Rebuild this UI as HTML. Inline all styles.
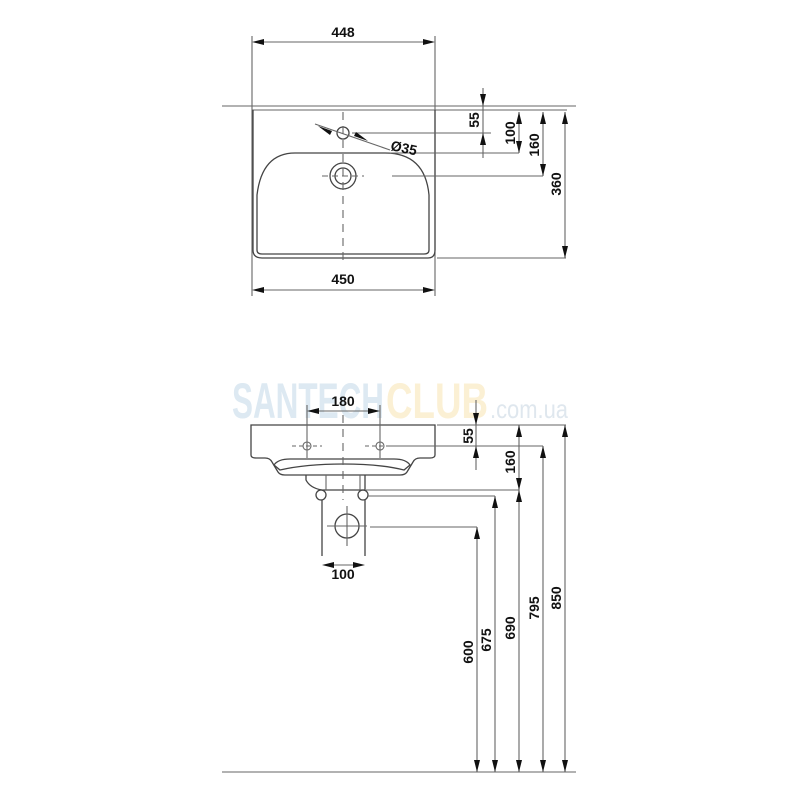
<!DOCTYPE html>
<html><head><style>body{margin:0;background:#fff}svg{display:block}</style></head><body>
<svg width="800" height="800" viewBox="0 0 800 800" xmlns="http://www.w3.org/2000/svg" font-family="Liberation Sans, sans-serif">
<rect width="800" height="800" fill="#fff"/>
<text x="232" y="418" font-size="50" font-weight="bold" fill="#dde9f2" textLength="152" lengthAdjust="spacingAndGlyphs">SANTECH</text>
<text x="386" y="418" font-size="50" font-weight="bold" fill="#fbf0d4" textLength="102" lengthAdjust="spacingAndGlyphs">CLUB</text>
<text x="490" y="418" font-size="26" fill="#dfe7ee" textLength="78" lengthAdjust="spacingAndGlyphs">.com.ua</text>
<g stroke="#666" stroke-width="1.1" fill="none">
<line x1="222" y1="106" x2="576" y2="106"/>
<line x1="252" y1="110" x2="567" y2="110"/>
<line x1="252" y1="36" x2="252" y2="296"/>
<line x1="435" y1="36" x2="435" y2="296"/>
<line x1="262" y1="42" x2="425" y2="42"/>
<line x1="262" y1="290" x2="425" y2="290"/>
<g stroke="#444" stroke-width="1.3">
<path d="M253 110 V250 Q253 258 262 258 H428 Q435 258 435 250 V110"/>
<path d="M257 250 V195 Q262 153 295 153 H385 Q425 153 429 195 V250 Q429 254 424 254 H262 Q257 254 257 250"/>
<circle cx="343" cy="133" r="6"/>
<circle cx="343" cy="176" r="13"/>
<circle cx="343" cy="176" r="8"/>
</g>
<line x1="343" y1="112" x2="343" y2="260" stroke-dasharray="8,6"/>
<line x1="322" y1="176" x2="364" y2="176" stroke-dasharray="6,4"/>
<line x1="315" y1="124" x2="390" y2="150"/>
<line x1="352" y1="133" x2="491" y2="133"/>
<line x1="390" y1="153" x2="519" y2="153"/>
<line x1="392" y1="176" x2="543" y2="176"/>
<line x1="437" y1="258" x2="566" y2="258"/>
<line x1="483" y1="88" x2="483" y2="158"/>
<line x1="519" y1="112" x2="519" y2="153"/>
<line x1="543" y1="112" x2="543" y2="176"/>
<line x1="565" y1="112" x2="565" y2="258"/>
<g stroke="#444" stroke-width="1.3">
<path d="M251 425 H435 V455 Q435 458 430 458 H420 Q415 458 413 462 L407 472 Q405 475 400 475 H285 Q280 475 278 472 L272 462 Q270 458 265 458 H256 Q251 458 251 455 Z"/>
<path d="M274 465 Q278 459 290 459 H394 Q406 459 410 465 L404 470 Q380 464 343 464 Q306 464 280 470 Z"/>
<path d="M306 475 V480 Q310 488 322 490 H365 V475"/>
<line x1="322" y1="500" x2="322" y2="556"/>
<line x1="365" y1="500" x2="365" y2="556"/>
<circle cx="321" cy="495" r="5"/>
<circle cx="363" cy="495" r="5"/>
<circle cx="347" cy="526" r="12"/>
</g>
<line x1="326" y1="475" x2="326" y2="490"/>
<line x1="360" y1="475" x2="360" y2="490"/>
<line x1="347" y1="506" x2="347" y2="546"/>
<line x1="327" y1="526" x2="367" y2="526"/>
<line x1="343" y1="415" x2="343" y2="500" stroke-dasharray="8,6"/>
<line x1="307" y1="405" x2="307" y2="458"/>
<line x1="380" y1="405" x2="380" y2="458"/>
<line x1="292" y1="446" x2="322" y2="446" stroke-dasharray="4,3"/>
<line x1="365" y1="446" x2="395" y2="446" stroke-dasharray="4,3"/>
<circle cx="307" cy="446" r="4"/><circle cx="380" cy="446" r="4"/>
<line x1="312" y1="411" x2="375" y2="411"/>
<line x1="328" y1="565" x2="360" y2="565"/>
<line x1="437" y1="425" x2="566" y2="425"/>
<line x1="386" y1="446" x2="543" y2="446"/>
<line x1="366" y1="490" x2="519" y2="490"/>
<line x1="368" y1="496" x2="495" y2="496"/>
<line x1="370" y1="527" x2="477" y2="527"/>
<line x1="476" y1="400" x2="476" y2="470"/>
<line x1="519" y1="425" x2="519" y2="772"/>
<line x1="543" y1="446" x2="543" y2="772"/>
<line x1="565" y1="425" x2="565" y2="772"/>
<line x1="495" y1="496" x2="495" y2="772"/>
<line x1="477" y1="527" x2="477" y2="772"/>
<line x1="222" y1="772" x2="576" y2="772"/>
</g>
<g fill="#111">
<path d="M252 42 l12 -3 v6z"/><path d="M435 42 l-12 -3 v6z"/>
<path d="M252 290 l12 -3 v6z"/><path d="M435 290 l-12 -3 v6z"/>
<path d="M307 411 l12 -3 v6z"/><path d="M380 411 l-12 -3 v6z"/>
<path d="M322 565 l12 -3 v6z"/><path d="M365 565 l-12 -3 v6z"/>
<path d="M318 126 l14 5 -2 4z"/><path d="M368 141 l-14 -5 2 -4z"/>
<path d="M483 106 l-3 -12 h6z"/><path d="M483 133 l-3 12 h6z"/>
<path d="M519 112 l-3 12 h6z"/><path d="M519 153 l-3 -12 h6z"/>
<path d="M543 112 l-3 12 h6z"/><path d="M543 176 l-3 -12 h6z"/>
<path d="M565 112 l-3 12 h6z"/><path d="M565 258 l-3 -12 h6z"/>
<path d="M476 425 l-3 -12 h6z"/><path d="M476 446 l-3 12 h6z"/>
<path d="M519 425 l-3 12 h6z"/><path d="M519 490 l-3 -12 h6z"/>
<path d="M543 446 l-3 12 h6z"/><path d="M565 425 l-3 12 h6z"/>
<path d="M495 496 l-3 12 h6z"/><path d="M477 527 l-3 12 h6z"/>
<path d="M519 490 l-3 12 h6z"/>
<path d="M477 772 l-3 -12 h6z"/><path d="M495 772 l-3 -12 h6z"/><path d="M519 772 l-3 -12 h6z"/><path d="M543 772 l-3 -12 h6z"/><path d="M565 772 l-3 -12 h6z"/>
</g>
<g font-size="14" font-weight="bold" fill="#111">
<text x="343" y="37" text-anchor="middle">448</text>
<text x="343" y="284" text-anchor="middle">450</text>
<text x="343" y="406" text-anchor="middle">180</text>
<text x="343" y="579" text-anchor="middle">100</text>
<text x="390" y="150" transform="rotate(12 390 150)">Ø35</text>
<text transform="translate(479 120) rotate(-90)" text-anchor="middle">55</text>
<text transform="translate(515 133) rotate(-90)" text-anchor="middle">100</text>
<text transform="translate(539 145) rotate(-90)" text-anchor="middle">160</text>
<text transform="translate(561 184) rotate(-90)" text-anchor="middle">360</text>
<text transform="translate(473 436) rotate(-90)" text-anchor="middle">55</text>
<text transform="translate(515 462) rotate(-90)" text-anchor="middle">160</text>
<text transform="translate(473 652) rotate(-90)" text-anchor="middle">600</text>
<text transform="translate(491 640) rotate(-90)" text-anchor="middle">675</text>
<text transform="translate(515 628) rotate(-90)" text-anchor="middle">690</text>
<text transform="translate(539 608) rotate(-90)" text-anchor="middle">795</text>
<text transform="translate(561 598) rotate(-90)" text-anchor="middle">850</text>
</g>
</svg>
</body></html>
